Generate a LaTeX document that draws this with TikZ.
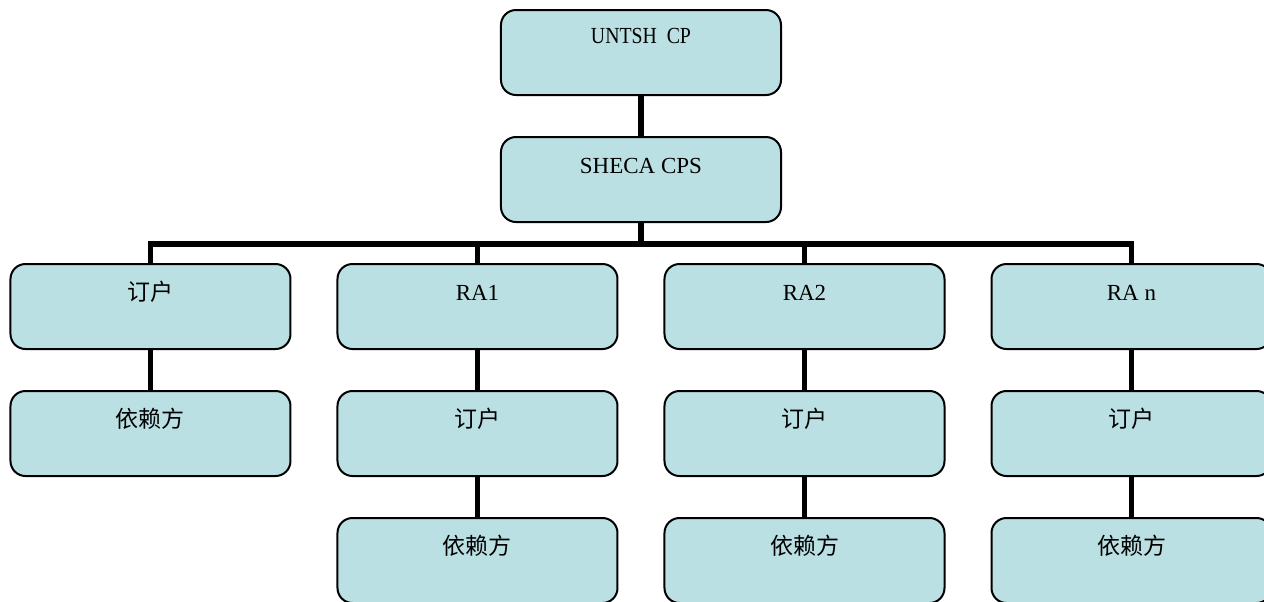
\documentclass[tikz,border=0pt]{standalone}
\usepackage{fontspec}
\setmainfont{Liberation Serif}
\newfontfamily\cjk{Noto Sans CJK SC}
\newfontfamily\narrowserif[FakeStretch=0.86]{Liberation Serif}
\definecolor{boxfill}{RGB}{187,224,227}
\tikzset{%
  orgchart/.style = {
    level distance=63.5pt,
    level 2/.style = {sibling distance=163.5pt},
    every node/.style = {shape=rectangle, rounded corners=7.5pt,
      draw, line width=1pt, fill=boxfill, align=center,
      minimum width=140pt, inner xsep=0pt, inner ysep=0pt,
      text height=18pt, text depth=24.5pt,
      font=\fontsize{11.5}{13}\selectfont},
    edge from parent/.style = {draw, sharp corners, line width=2.6pt},
    edge from parent path = {(\tikzparentnode.south) -- ++(0,-10.5pt) -| (\tikzchildnode.north)}
  }
}

\begin{document}
\begin{tikzpicture}[orgchart]
	    \useasboundingbox (-320.5pt,-274.25pt) rectangle (311.5pt,26.25pt);
	    \node (untsh) [text height=16.5pt, text depth=26pt] {\narrowserif UNTSH\ \ CP}
	    child {
	      node (sheca) {SHECA CPS}
		child { node (sub0) {\cjk 订户}
		  child { node (rel0) {\cjk 依赖方} }
		}
		child { node (ra1) {RA1}
		  child { node (sub1) {\cjk 订户}
		    child { node (rel1) {\cjk 依赖方} }
		  }
		}
		child { node (ra2) {RA2}
		  child { node (sub2) {\cjk 订户}
		    child { node (rel2) {\cjk 依赖方} }
		  }
		}
		child { node (ran) {RA n}
		  child { node (subn) {\cjk 订户}
		    child { node (reln) {\cjk 依赖方} }
		  }
		}
	    };
	  \end{tikzpicture}
\end{document}
